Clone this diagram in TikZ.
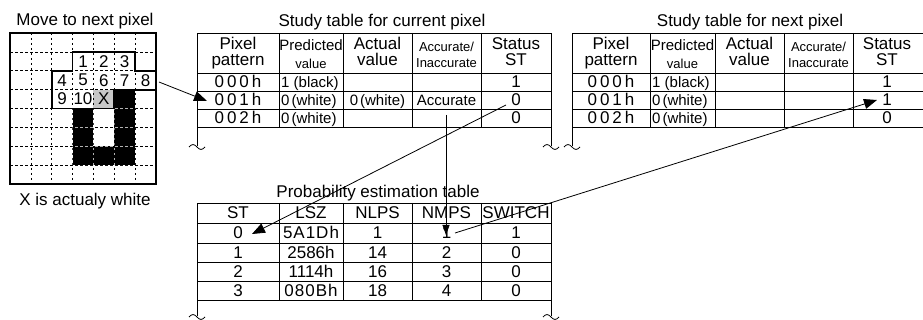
\documentclass[tikz,border=0pt]{standalone}
\usepackage{fontspec}
\setmainfont{Liberation Sans}
\usetikzlibrary{arrows.meta}
\tikzset{
  brk/.pic={\draw[line width=0.8pt] (-8,0) sin (-4,-2.5) cos (0,0) sin (4,2.5) cos (8,0);}
}
\begin{document}
\begin{tikzpicture}[x=1pt,y=-1pt,
  txt/.style={font=\fontsize{17}{17}\selectfont, inner sep=0pt, anchor=base},
  txtm/.style={font=\fontsize{15}{15}\selectfont, inner sep=0pt, anchor=base},
  txts/.style={font=\fontsize{13}{13}\selectfont, inner sep=0pt, anchor=base},
  gn/.style={font=\fontsize{17}{17}\selectfont, inner sep=0pt},
  tl/.style={line width=0.8pt},
  gdash/.style={line width=0.6pt, dash pattern=on 2.5pt off 2.5pt},
  arr/.style={line width=0.8pt, -{Triangle[length=13pt,width=10pt]}},
  arrs/.style={line width=0.8pt, -{Triangle[length=10pt,width=7pt]}}
]
\useasboundingbox (0,0) rectangle (923,320);

% ---------- pixel grid ----------
\node[txt] (gt) at (85,26) {Move to next pixel};
\node[txt] (gb) at (85,206) {X is actualy white};
\begin{scope}[shift={(10,33)}, x=20.857pt, y=-18.875pt]
  \fill[black!22] (4,3) rectangle (5,4);
  \fill (3,4) rectangle (4,7);
  \fill (5,3) rectangle (6,7);
  \fill (4,6) rectangle (5,7);
  \foreach \i in {1,...,6} \draw[gdash] (\i,0) -- (\i,8);
  \foreach \j in {1,...,7} \draw[gdash] (0,\j) -- (7,\j);
  \begin{scope}
    \clip (3,4) rectangle (4,7) (5,3) rectangle (6,7) (4,6) rectangle (5,7);
    \foreach \i in {1,...,6} \draw[gdash, white!70!black, line width=0.5pt] (\i,0) -- (\i,8);
    \foreach \j in {1,...,7} \draw[gdash, white!70!black, line width=0.5pt] (0,\j) -- (7,\j);
  \end{scope}
  \draw[line width=1.3pt] (0,0) rectangle (7,8);
  \draw[line width=1.8pt, line join=miter] (3,2) -- (3,1) -- (6,1) -- (6,2) -- (7,2) -- (7,3) -- (5,3) -- (5,4) -- (2,4) -- (2,2) -- cycle;
  \node[gn] (n1) at (3.5,1.5) {1};
  \node[gn] (n2) at (4.5,1.5) {2};
  \node[gn] (n3) at (5.5,1.5) {3};
  \node[gn] (n4) at (2.5,2.5) {4};
  \node[gn] (n5) at (3.5,2.5) {5};
  \node[gn] (n6) at (4.5,2.5) {6};
  \node[gn] (n7) at (5.5,2.5) {7};
  \node[gn] (n8) at (6.5,2.5) {8};
  \node[gn] (n9) at (2.5,3.5) {9};
  \node[gn] (n10) at (3.5,3.5) {10};
  \node[gn] (nX) at (4.5,3.5) {X};
\end{scope}

% ---------- study table for current pixel ----------
\node[txt] (t1) at (382,27) {Study table for current pixel};
\draw[tl] (197,146) -- (197,33) -- (551,33) -- (551,146);
\foreach \y in {73,91,109,127} \draw[tl] (197,\y) -- (551,\y);
\foreach \x in {279,343,412,481} \draw[tl] (\x,33) -- (\x,127);
\pic at (197,147) {brk};
\pic at (551,147) {brk};

\node[txt] (a11) at (238,50) {Pixel};
\node[txt] (a12) at (238,66) {pattern};
\node[txtm] (a21) at (311,51) {Predicted};
\node[txts] (a22) at (311,69) {value};
\node[txt] (a31) at (377.5,50) {Actual};
\node[txt] (a32) at (377.5,66) {value};
\node[txts] (a41) at (446.5,52) {Accurate/};
\node[txts] (a42) at (446.5,68) {Inaccurate};
\node[txt] (a51) at (516,50) {Status};
\node[txt] (a52) at (516,66) {ST};

\node[txt] (ap1) at (238,88) {0\kern3pt0\kern3pt0\kern3pt h};
\node[txt] (ap2) at (238,106) {0\kern3pt0\kern3pt1\kern3pt h};
\node[txt] (ap3) at (238,124) {0\kern3pt0\kern3pt2\kern3pt h};
\node[txtm, anchor=base west] (av1) at (281,88) {1 (black)};
\node[txtm, anchor=base west] (av2) at (281,106) {0\kern2pt(white)};
\node[txtm, anchor=base west] (av3) at (281,124) {0\kern2pt(white)};
\node[txtm] (aa2) at (377.5,106) {0\kern2pt(white)};
\node[txtm] (ac2) at (446.5,106) {Accurate};
\node[txt] (as1) at (516,88) {1};
\node[txt] (as2) at (516,106) {0};
\node[txt] (as3) at (516,124) {0};

% ---------- study table for next pixel ----------
\node[txt] (t2) at (750,27) {Study table for next pixel};
\draw[tl] (572,146) -- (572,33) -- (923,33);
\foreach \y in {73,91,109,127} \draw[tl] (572,\y) -- (923,\y);
\foreach \x in {650,715,784,853} \draw[tl] (\x,33) -- (\x,127);
\pic at (572,147) {brk};

\node[txt] (b11) at (611,50) {Pixel};
\node[txt] (b12) at (611,66) {pattern};
\node[txtm] (b21) at (682.5,51) {Predicted};
\node[txts] (b22) at (682.5,69) {value};
\node[txt] (b31) at (749.5,50) {Actual};
\node[txt] (b32) at (749.5,66) {value};
\node[txts] (b41) at (818.5,52) {Accurate/};
\node[txts] (b42) at (818.5,68) {Inaccurate};
\node[txt] (b51) at (887,50) {Status};
\node[txt] (b52) at (887,66) {ST};

\node[txt] (bp1) at (611,88) {0\kern3pt0\kern3pt0\kern3pt h};
\node[txt] (bp2) at (611,106) {0\kern3pt0\kern3pt1\kern3pt h};
\node[txt] (bp3) at (611,124) {0\kern3pt0\kern3pt2\kern3pt h};
\node[txtm, anchor=base west] (bv1) at (652,88) {1 (black)};
\node[txtm, anchor=base west] (bv2) at (652,106) {0\kern2pt(white)};
\node[txtm, anchor=base west] (bv3) at (652,124) {0\kern2pt(white)};
\node[txt] (bs1) at (887,88) {1};
\node[txt] (bs2) at (887,106) {1};
\node[txt] (bs3) at (887,124) {0};

% ---------- probability estimation table ----------
\node[txt] (t3) at (378,198) {Probability estimation table};
\draw[tl] (197,316) -- (197,203) -- (551,203) -- (551,316);
\foreach \y in {223,243,262,281,300} \draw[tl] (197,\y) -- (551,\y);
\foreach \x in {279,343,412,481} \draw[tl] (\x,203) -- (\x,300);
\pic at (197,317) {brk};
\pic at (551,317) {brk};

\node[txt] (c1) at (238,219) {ST};
\node[txt] (c2) at (311,219) {LSZ};
\node[txt] (c3) at (377.5,219) {NLPS};
\node[txt] (c4) at (446.5,219) {NMPS};
\node[txt] (c5) at (516,219) {SWITCH};

\node[txt] (r11) at (238,239) {0};
\node[txt] (r12) at (311,239) {5\kern1pt A\kern1pt1\kern1pt D\kern1pt h};
\node[txt] (r13) at (377.5,239) {1};
\node[txt] (r14) at (446.5,239) {1};
\node[txt] (r15) at (516,239) {1};
\node[txt] (r21) at (238,258.5) {1};
\node[txt] (r22) at (311,258.5) {2586h};
\node[txt] (r23) at (377.5,258.5) {14};
\node[txt] (r24) at (446.5,258.5) {2};
\node[txt] (r25) at (516,258.5) {0};
\node[txt] (r31) at (238,277.5) {2};
\node[txt] (r32) at (311,277.5) {1114h};
\node[txt] (r33) at (377.5,277.5) {16};
\node[txt] (r34) at (446.5,277.5) {3};
\node[txt] (r35) at (516,277.5) {0};
\node[txt] (r41) at (238,296.5) {3};
\node[txt] (r42) at (311,296.5) {0\kern1pt8\kern1pt0\kern1pt B\kern1pt h};
\node[txt] (r43) at (377.5,296.5) {18};
\node[txt] (r44) at (446.5,296.5) {4};
\node[txt] (r45) at (516,296.5) {0};

% ---------- arrows ----------
\coordinate (p1s) at (159,82);
\coordinate (p1e) at (207,101);
\coordinate (p2s) at (506,105);
\coordinate (p2e) at (252,234);
\coordinate (p3s) at (446,115);
\coordinate (p3e) at (446,235);
\coordinate (p4s) at (455,233);
\coordinate (p4e) at (877,100);
\draw[arr] (p1s) -- (p1e);
\draw[arr] (p2s) -- (p2e);
\draw[arrs] (p3s) -- (p3e);
\draw[arr] (p4s) -- (p4e);
\end{tikzpicture}
\end{document}
